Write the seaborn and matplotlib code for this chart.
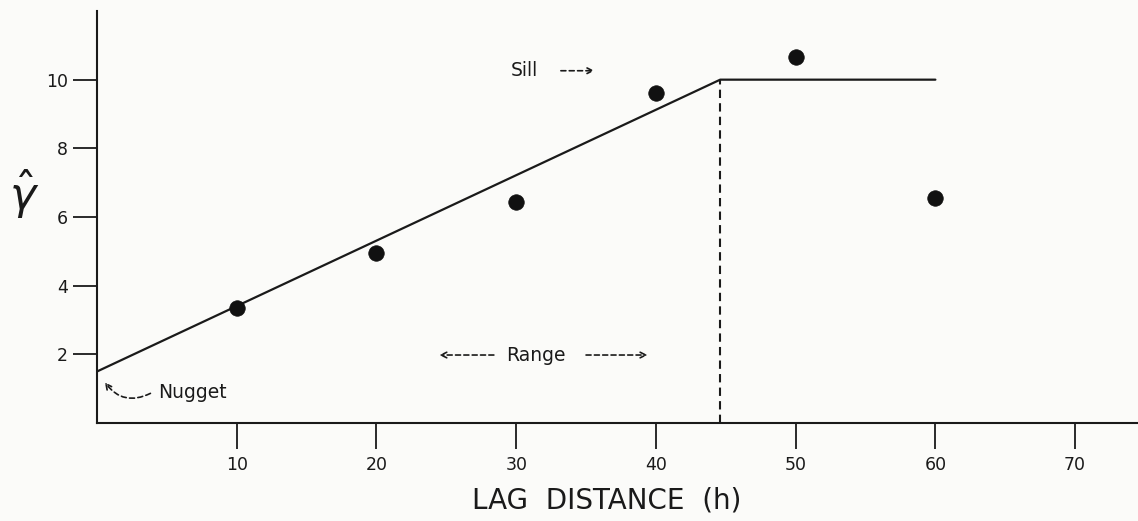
import numpy as np
import pandas as pd
import matplotlib
matplotlib.use('Agg')
import matplotlib.pyplot as plt
import seaborn as sns

# experimental semivariogram points
lag = [10, 20, 30, 40, 50, 60]
gamma_hat = [3.35, 4.95, 6.45, 9.6, 10.65, 6.55]

# fitted linear model with sill
model_lag = [0, 44.6, 60]
model_gamma = [1.5, 10.0, 10.0]
nugget = 1.5
sill = 10.0
range_h = 44.6

xticks = [10, 20, 30, 40, 50, 60, 70]
yticks = [2, 4, 6, 8, 10]

pts = pd.DataFrame({'lag': lag, 'gamma': gamma_hat})
model = pd.DataFrame({'lag': model_lag, 'gamma': model_gamma})

sns.set_style('ticks')
plt.rcParams['font.family'] = ['DejaVu Sans']

fig = plt.figure(figsize=(11.38, 5.21), dpi=100, facecolor='#fbfbf9')
ax = fig.add_axes([97 / 1138, 98 / 521, 1 - 97 / 1138, 412 / 521])
ax.set_facecolor('#fbfbf9')

sns.lineplot(data=model, x='lag', y='gamma', color='#1a1a1a', linewidth=1.6, ax=ax)
ax.plot([range_h, range_h], [0, sill], color='#1a1a1a', linewidth=1.5, linestyle=(0, (4, 2.5)))
sns.scatterplot(data=pts, x='lag', y='gamma', color='#111111', s=125, edgecolor='#111111', linewidth=0.5, ax=ax, zorder=3)

ax.set_xlim(0, 74.5)
ax.set_ylim(0, 12)
ax.set_xticks(xticks)
ax.set_yticks(yticks)
ax.tick_params(axis='x', length=19, width=1.3, pad=5, labelsize=12.5, colors='#1a1a1a')
ax.tick_params(axis='y', length=17, width=1.3, pad=4, labelsize=12.5, colors='#1a1a1a')
sns.despine(ax=ax)
for s in ['left', 'bottom']:
    ax.spines[s].set_linewidth(1.5)
    ax.spines[s].set_color('#1a1a1a')

ax.set_xlabel('LAG  DISTANCE  (h)', fontsize=20, color='#1a1a1a')
ax.xaxis.set_label_coords(0.49, -0.155)
ax.set_ylabel(r'$\hat{\gamma}$', fontsize=32, rotation=0, color='#1a1a1a', va='center')
ax.yaxis.set_label_coords(-0.07, 0.555)

arrow = dict(arrowstyle='->', linestyle=(0, (3, 2)), color='#1a1a1a', linewidth=1.2)

ax.text(29.6, 10.26, 'Sill', fontsize=13.5, va='center', ha='left', color='#1a1a1a')
ax.annotate('', xy=(35.8, 10.26), xytext=(33.0, 10.26), arrowprops=arrow)

ax.text(31.4, 1.98, 'Range', fontsize=13.5, va='center', ha='center', color='#1a1a1a')
ax.annotate('', xy=(24.3, 1.98), xytext=(28.6, 1.98), arrowprops=arrow)
ax.annotate('', xy=(39.6, 1.98), xytext=(34.8, 1.98), arrowprops=arrow)

ax.text(4.35, 0.9, 'Nugget', fontsize=13.5, va='center', ha='left', color='#1a1a1a')
ax.annotate('', xy=(0.45, 1.25), xytext=(4.0, 0.9),
            arrowprops=dict(arrowstyle='->', linestyle=(0, (3, 2)), color='#1a1a1a',
                            linewidth=1.2, connectionstyle='arc3,rad=-0.45'))

fig.savefig('out.png', dpi=100, facecolor=fig.get_facecolor())
